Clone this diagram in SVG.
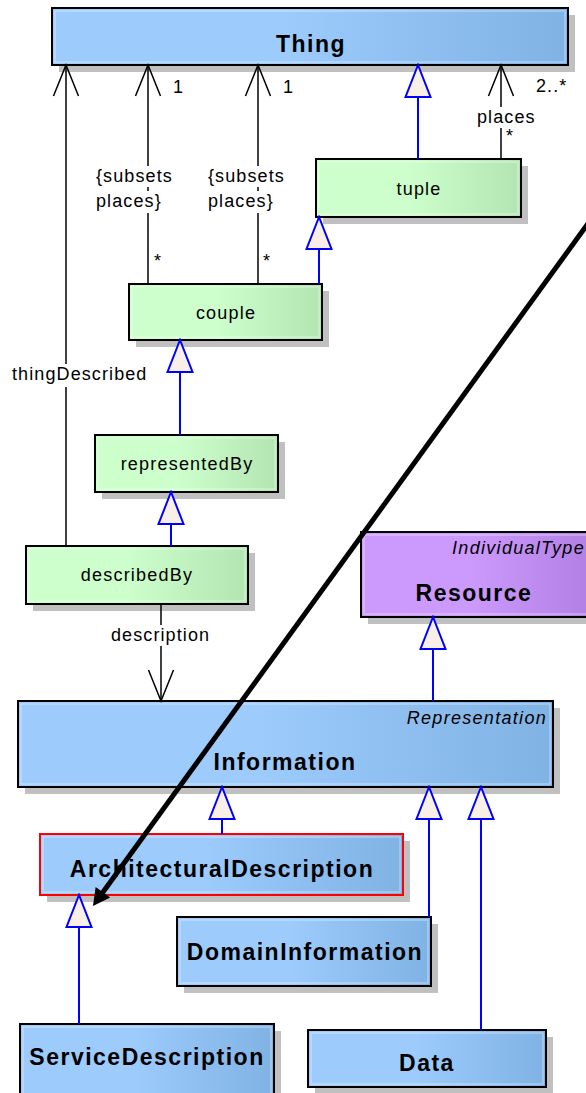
<svg xmlns="http://www.w3.org/2000/svg" width="586" height="1093" viewBox="0 0 586 1093">
  <defs>
    <linearGradient id="gBlue" x1="0" y1="0" x2="1" y2="0">
      <stop offset="0" stop-color="#9ccbfc"/>
      <stop offset="0.45" stop-color="#9ccbfc"/>
      <stop offset="1" stop-color="#80b2e4"/>
    </linearGradient>
    <linearGradient id="gGreen" x1="0" y1="0" x2="1" y2="0">
      <stop offset="0" stop-color="#ccffcc"/>
      <stop offset="0.45" stop-color="#ccffcc"/>
      <stop offset="1" stop-color="#b3e5b3"/>
    </linearGradient>
    <linearGradient id="gPurple" x1="0" y1="0" x2="1" y2="0">
      <stop offset="0" stop-color="#cc99fd"/>
      <stop offset="0.45" stop-color="#cc99fd"/>
      <stop offset="1" stop-color="#b07ee2"/>
    </linearGradient>
    <!-- open association arrowhead -->
    <marker id="open" markerUnits="userSpaceOnUse" viewBox="-34 -15 36 30" markerWidth="36" markerHeight="30" refX="0" refY="0" orient="auto">
      <path d="M-31,-12.5 L0,0 L-31,12.5" fill="none" stroke="#000" stroke-width="1.5"/>
    </marker>
    <!-- generalization triangle -->
    <marker id="gen" markerUnits="userSpaceOnUse" viewBox="-35 -15 37 30" markerWidth="37" markerHeight="30" refX="0" refY="0" orient="auto">
      <path d="M0,0 L-32,-12.5 L-32,12.5 Z" fill="#f8f0e6" stroke="#0000ff" stroke-width="2" stroke-linejoin="miter"/>
    </marker>
    <!-- filled heavy arrowhead -->
    <marker id="heavy" markerUnits="userSpaceOnUse" viewBox="-22 -11 24 22" markerWidth="24" markerHeight="22" refX="-12" refY="0" orient="auto">
      <path d="M0,0 L-17,-9 L-17,9 Z" fill="#000"/>
    </marker>
  </defs>
  <style>
    .shadow { fill: #c0c0c0; }
    .box { stroke: #000; stroke-width: 2; }
    .inner { fill: none; stroke: #ffffff; stroke-opacity: 0.35; stroke-width: 1.5; }
    .blue { fill: url(#gBlue); }
    .green { fill: url(#gGreen); }
    .purple { fill: url(#gPurple); }
    .red { stroke: #ff0000; }
    .name { font-family: "Liberation Sans", Arial, sans-serif; font-size: 18px; letter-spacing: 1.2px; fill: #000; text-anchor: middle; }
    .bold { font-family: "Liberation Sans", Arial, sans-serif; font-size: 23px; font-weight: bold; letter-spacing: 1.5px; fill: #000; text-anchor: middle; }
    .stereo { font-family: "Liberation Sans", Arial, sans-serif; font-size: 18px; font-style: italic; letter-spacing: 1.3px; fill: #000; text-anchor: end; }
    .lbl { font-family: "Liberation Sans", Arial, sans-serif; font-size: 18px; letter-spacing: 1.1px; fill: #000; }
    .assoc { fill: none; stroke: #000; stroke-width: 1.5; }
    .genl { fill: none; stroke: #0000ff; stroke-width: 2; }
    .bg { fill: #ffffff; }
  </style>

  <rect width="586" height="1093" fill="#ffffff"/>

  <!-- classes -->
  <g id="Thing">
    <rect class="shadow" x="59" y="15" width="516" height="57"/>
    <rect class="box blue" x="52" y="8" width="516" height="57"/>
    <rect class="inner" x="55" y="11" width="510" height="51"/>
    <text class="bold" x="311" y="52">Thing</text>
  </g>

  <g id="tuple">
    <rect class="shadow" x="323" y="166" width="205" height="58"/>
    <rect class="box green" x="316" y="159" width="205" height="58"/>
    <rect class="inner" x="319" y="162" width="199" height="52"/>
    <text class="name" x="419" y="195">tuple</text>
  </g>

  <g id="couple">
    <rect class="shadow" x="136" y="291" width="193" height="56"/>
    <rect class="box green" x="129" y="284" width="193" height="56"/>
    <rect class="inner" x="132" y="287" width="187" height="50"/>
    <text class="name" x="226" y="319">couple</text>
  </g>

  <g id="representedBy">
    <rect class="shadow" x="102" y="442" width="183" height="57"/>
    <rect class="box green" x="95" y="435" width="183" height="57"/>
    <rect class="inner" x="98" y="438" width="177" height="51"/>
    <text class="name" x="187" y="470">representedBy</text>
  </g>

  <g id="describedBy">
    <rect class="shadow" x="33" y="553" width="222" height="58"/>
    <rect class="box green" x="26" y="546" width="222" height="58"/>
    <rect class="inner" x="29" y="549" width="216" height="52"/>
    <text class="name" x="137" y="581">describedBy</text>
  </g>

  <g id="Resource">
    <rect class="shadow" x="368" y="539" width="240" height="85"/>
    <rect class="box purple" x="361" y="532" width="240" height="85"/>
    <rect class="inner" x="364" y="535" width="234" height="79"/>
    <text class="stereo" x="585" y="554">IndividualType</text>
    <text class="bold" x="474" y="601">Resource</text>
  </g>

  <g id="Information">
    <rect class="shadow" x="25" y="708" width="535" height="86"/>
    <rect class="box blue" x="18" y="701" width="535" height="86"/>
    <rect class="inner" x="21" y="704" width="529" height="80"/>
    <text class="stereo" x="547" y="724">Representation</text>
    <text class="bold" x="285" y="770">Information</text>
  </g>

  <g id="ArchitecturalDescription">
    <rect class="shadow" x="47" y="841" width="363" height="61"/>
    <rect class="box blue red" x="40" y="834" width="363" height="61"/>
    <rect class="inner" x="43" y="837" width="357" height="55"/>
    <text class="bold" x="222" y="877">ArchitecturalDescription</text>
  </g>

  <g id="DomainInformation">
    <rect class="shadow" x="184" y="924" width="254" height="69"/>
    <rect class="box blue" x="177" y="917" width="254" height="69"/>
    <rect class="inner" x="180" y="920" width="248" height="63"/>
    <text class="bold" x="305" y="960">DomainInformation</text>
  </g>

  <g id="ServiceDescription">
    <rect class="shadow" x="27" y="1031" width="254" height="80"/>
    <rect class="box blue" x="20" y="1024" width="254" height="80"/>
    <rect class="inner" x="23" y="1027" width="248" height="74"/>
    <text class="bold" x="147" y="1065">ServiceDescription</text>
  </g>

  <g id="Data">
    <rect class="shadow" x="315" y="1037" width="238" height="57"/>
    <rect class="box blue" x="308" y="1030" width="238" height="57"/>
    <rect class="inner" x="311" y="1033" width="232" height="51"/>
    <text class="bold" x="427" y="1071">Data</text>
  </g>

  <!-- connectors -->
  <g id="connectors">
    <!-- thingDescribed -->
    <line class="assoc" x1="66" y1="546" x2="66" y2="65" marker-end="url(#open)"/>
    <!-- couple places (two ends) -->
    <line class="assoc" x1="148" y1="284" x2="148" y2="65" marker-end="url(#open)"/>
    <line class="assoc" x1="258" y1="284" x2="258" y2="65" marker-end="url(#open)"/>
    <!-- tuple places -->
    <line class="assoc" x1="501" y1="159" x2="501" y2="65" marker-end="url(#open)"/>
    <!-- description -->
    <line class="assoc" x1="161" y1="604" x2="161" y2="701" marker-end="url(#open)"/>

    <!-- generalizations -->
    <line class="genl" x1="418" y1="159" x2="418" y2="65" marker-end="url(#gen)"/>
    <line class="genl" x1="319" y1="284" x2="319" y2="217" marker-end="url(#gen)"/>
    <line class="genl" x1="180" y1="435" x2="180" y2="340" marker-end="url(#gen)"/>
    <line class="genl" x1="171" y1="546" x2="171" y2="492" marker-end="url(#gen)"/>
    <line class="genl" x1="433" y1="701" x2="433" y2="617" marker-end="url(#gen)"/>
    <line class="genl" x1="222" y1="834" x2="222" y2="787" marker-end="url(#gen)"/>
    <line class="genl" x1="429" y1="917" x2="429" y2="787" marker-end="url(#gen)"/>
    <line class="genl" x1="481" y1="1030" x2="481" y2="787" marker-end="url(#gen)"/>
    <line class="genl" x1="79" y1="1024" x2="79" y2="895" marker-end="url(#gen)"/>

    <!-- connector labels -->
    <rect class="bg" x="10" y="364" width="142" height="23"/>
    <text class="lbl" x="12" y="380">thingDescribed</text>

    <text class="lbl" x="173" y="93">1</text>
    <text class="lbl" x="283" y="93">1</text>
    <rect class="bg" x="95" y="166" width="80" height="21"/>
    <text class="lbl" x="96" y="182">{subsets</text>
    <rect class="bg" x="95" y="191" width="72" height="22"/>
    <text class="lbl" x="96" y="207">places}</text>
    <rect class="bg" x="207" y="166" width="80" height="21"/>
    <text class="lbl" x="208" y="182">{subsets</text>
    <rect class="bg" x="207" y="191" width="72" height="22"/>
    <text class="lbl" x="208" y="207">places}</text>
    <text class="lbl" x="154" y="267">*</text>
    <text class="lbl" x="263" y="267">*</text>

    <rect class="bg" x="475" y="107" width="68" height="21"/>
    <text class="lbl" x="477" y="123">places</text>
    <text class="lbl" x="506" y="142">*</text>
    <text class="lbl" x="536" y="92">2..*</text>

    <rect class="bg" x="109" y="625" width="105" height="21"/>
    <text class="lbl" x="111" y="641">description</text>
  </g>

  <!-- heavy pointer arrow drawn over everything -->
  <g id="pointer">
    <line x1="592" y1="218" x2="100.0" y2="896.3" stroke="#000" stroke-width="5" marker-end="url(#heavy)"/>
  </g>
</svg>
